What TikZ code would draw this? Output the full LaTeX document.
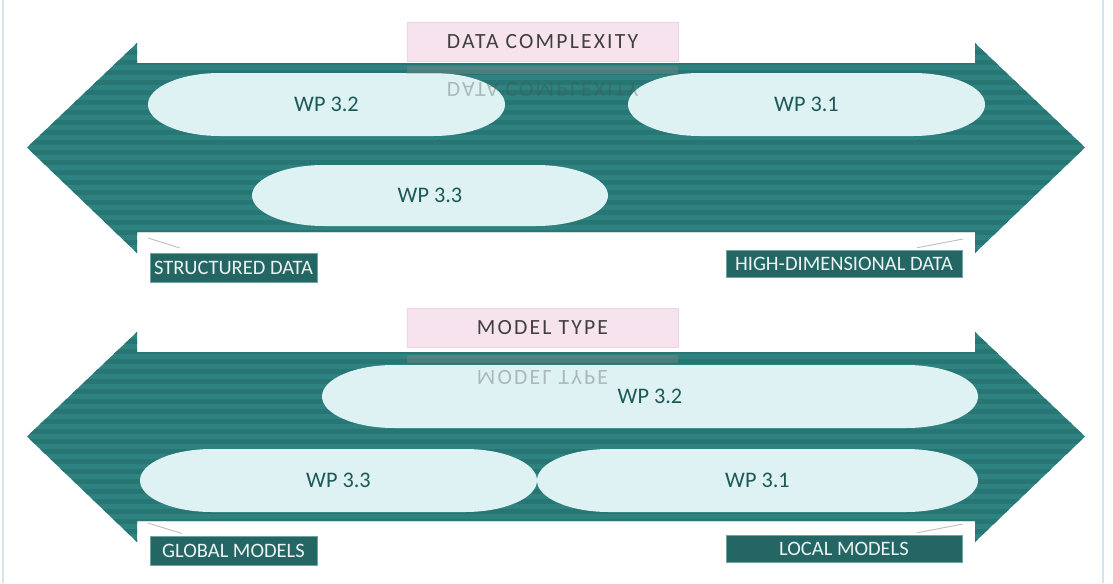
\documentclass[tikz,border=0pt]{standalone}
\usepackage{fontspec}
\setmainfont{Carlito}
\newfontfamily\spaced[LetterSpace=10]{Carlito}
\usetikzlibrary{calc}

\definecolor{arrowteal}{HTML}{2E827F}
\definecolor{stripeteal}{HTML}{287674}
\definecolor{pillblue}{HTML}{DFF2F3}
\definecolor{pilltext}{HTML}{1C5957}
\definecolor{labteal}{HTML}{236663}
\definecolor{labedge}{HTML}{6FA4A1}
\definecolor{pinkbg}{HTML}{F6E3EE}
\definecolor{pinkedge}{HTML}{EBD3E0}
\definecolor{frameblue}{HTML}{D3E5EA}

\tikzset{
  arrowfill/.style={fill=arrowteal},
  pill/.style={fill=pillblue},
  wp/.style={text=pilltext, font=\fontsize{19}{21}\selectfont},
  lab/.style={fill=labteal, draw=labedge, line width=0.4pt, text=white!92!labteal,
    font=\fontsize{17.5}{19}\selectfont, minimum width=5.01cm, minimum height=0.86cm, inner sep=0pt},
  widelab/.style={lab, minimum width=7.08cm, minimum height=0.81cm},
  heading/.style={fill=pinkbg, draw=pinkedge, line width=0.3pt, text=black!75,
    font=\spaced\fontsize{18.5}{20}\selectfont, minimum width=8.13cm, minimum height=1.17cm, inner sep=0pt},
  mirror/.style={yscale=-1, text=black!70, opacity=0.35, font=\spaced\fontsize{18.5}{20}\selectfont, inner sep=0pt},
  tick/.style={draw=black!25, line width=0.8pt}
}

% name, x left, x right, y top, y bottom, text
\newcommand{\wppill}[6]{%
  \pgfmathsetmacro{\ry}{(#5-#4)/2}
  \fill[pill] (#2+72,#4) -- (#3-72,#4) arc[start angle=-90, end angle=90, x radius=72, y radius=\ry]
    -- (#2+72,#5) arc[start angle=90, end angle=270, x radius=72, y radius=\ry] -- cycle;
  \node[wp] (#1) at ({(#2+#3)/2},{(#4+#5)/2}) {#6};
}

\begin{document}
\begin{tikzpicture}[x=0.03cm, y=-0.03cm]
	\useasboundingbox (0,0) rectangle (1113,583);
	\draw[frameblue, line width=1pt] (3,0) -- (3,583);
	\draw[frameblue, line width=1pt] (1103,0) -- (1103,583);

	\begin{scope}
		\fill[arrowfill, path picture={
			\foreach \y in {40,50,...,260} \fill[stripeteal] (20,\y) rectangle (1090,\y+5);}]
			(27,147.5) -- (137,43) -- (137,63) -- (975,63) -- (975,43) -- (1085,147.5)
			-- (975,253) -- (975,232) -- (137,232) -- (137,253) -- cycle;

		\wppill{W32}{148}{505}{73}{136}{WP 3.2}
		\wppill{W31}{628}{985}{73}{136}{WP 3.1}
		\wppill{W33}{252}{608}{165}{226}{WP 3.3}

		\node[lab] (S1) at (233.5,267.5) {STRUCTURED DATA};
		\node[widelab] (H1) at (844,263.5) {HIGH-DIMENSIONAL DATA};
		\coordinate (s1) at (148,238);
		\coordinate (h1) at (963,239);
		\draw[tick] (s1) -- ([shift={(30,-5)}]S1.north west);
		\draw[tick] ([shift={(73,-2)}]H1.north) -- (h1);

		\node[heading] (P1) at (542.5,41.5) {DATA COMPLEXITY};
		\fill[black!45, opacity=0.35] (407,66) rectangle (678,74);
		\node[mirror] (R1) at (542.5,89) {DATA COMPLEXITY};
	\end{scope}

	\begin{scope}[shift={(0,289)}]
		\fill[arrowfill, path picture={
			\foreach \y in {40,50,...,260} \fill[stripeteal] (20,\y) rectangle (1090,\y+5);}]
			(27,147.5) -- (137,43) -- (137,63) -- (975,63) -- (975,43) -- (1085,147.5)
			-- (975,253) -- (975,232) -- (137,232) -- (137,253) -- cycle;

		\wppill{V32}{322}{978}{76}{139}{WP 3.2}
		\wppill{V33}{140}{537}{160}{223}{WP 3.3}
		\wppill{V31}{537}{978}{160}{223}{WP 3.1}

		\node[lab] (G1) at (233.5,262) {GLOBAL MODELS};
		\node[widelab] (L1) at (844,259.5) {LOCAL MODELS};
		\coordinate (g1) at (148,234);
		\coordinate (l1) at (963,235);
		\draw[tick] (g1) -- ([shift={(32,-3)}]G1.north west);
		\draw[tick] ([shift={(73,-2)}]L1.north) -- (l1);

		\node[heading] (P2) at (542.5,39) {MODEL TYPE};
		\fill[black!45, opacity=0.35] (407,66) rectangle (678,74);
		\node[mirror] (R2) at (542.5,88) {MODEL TYPE};
	\end{scope}
\end{tikzpicture}
\end{document}
